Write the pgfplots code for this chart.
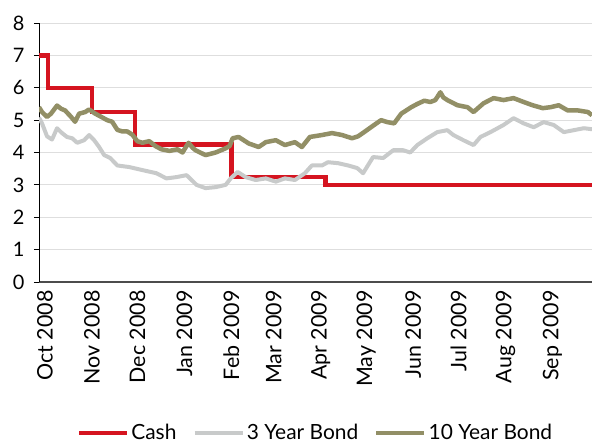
\documentclass[border=0pt]{standalone}
\usepackage{pgfplots}
\pgfplotsset{compat=1.18}
\usepackage{fontspec}
\setmainfont{Lato}
\definecolor{cashred}{RGB}{213,20,32}
\definecolor{bondgray}{RGB}{200,202,202}
\definecolor{bondolive}{RGB}{146,143,102}
\begin{document}
\begin{tikzpicture}
\useasboundingbox (-39bp,-161bp) rectangle (553bp,282bp);
\begin{axis}[
  at={(0,0)}, anchor=south west,
  scale only axis, width=553bp, height=259bp,
  xmin=0, xmax=365, ymin=0, ymax=8,
  ytick={0,1,...,8},
  xtick={0,31,61,92,123,151,182,212,243,273,304,335},
  xticklabels={Oct 2008,Nov 2008,Dec 2008,Jan 2009,Feb 2009,Mar 2009,Apr 2009,May 2009,Jun 2009,Jul 2009,Aug 2009,Sep 2009},
  x tick label style={rotate=90, anchor=east, font=\fontsize{21.5}{21.5}\selectfont, yshift=-6bp},
  y tick label style={font=\fontsize{20}{20}\selectfont, xshift=-6bp},
  /pgf/number format/assume math mode=true,
  axis x line*=bottom, axis y line*=left,
  ymajorgrids, grid style={draw=black!13, line width=1bp},
  x axis line style={draw=black!70, line width=1.8bp, -},
  y axis line style={draw=black, line width=1bp, -},
  xtick style={draw=none},
  ytick style={draw=black, line width=1bp},
  tick align=outside, major tick length=5bp,
  legend columns=3,
  legend style={draw=none, fill=none, at={(0.5,-0.583)}, anchor=center,
    font=\fontsize{21}{21}\selectfont,
    /tikz/every even column/.append style={column sep=14bp}},
  legend image code/.code={\draw[#1, line width=4.5bp] (0bp,0bp) -- (48bp,0bp);},
]
\addplot[cashred, line width=4.5bp, const plot] coordinates {
(0,7) (6,7) (6,6) (35,6) (35,5.25) (63.5,5.25) (63.5,4.25) (127,4.25) (127,3.25) (189,3.25) (189,3.0) (366,3.0)
};
\addlegendentry{Cash}
\addplot[bondgray, line width=4bp, line join=round] coordinates {
(0,5.08) (2,4.9) (5.3,4.5) (8.6,4.4) (11.9,4.75) (15.2,4.6) (18.5,4.48) (21.9,4.44) (25.2,4.3) (29.8,4.38) (33.1,4.54) (36.4,4.38) (39.7,4.17) (43,3.92) (47,3.83) (51.7,3.6) (59.6,3.55) (68.9,3.45) (77.5,3.36) (84.1,3.2) (90.7,3.24) (97.4,3.3) (104,3.0) (109.9,2.9) (116.6,2.93) (123.2,3.0) (126.5,3.2) (131.1,3.4) (136.4,3.24) (143,3.15) (149.7,3.2) (156.3,3.1) (162.3,3.2) (168.9,3.15) (175.5,3.36) (180.1,3.6) (186.8,3.6) (190.7,3.7) (197.4,3.67) (204,3.6) (210,3.52) (213.9,3.36) (220.5,3.86) (227.2,3.83) (233.8,4.07) (240.4,4.07) (245,4.0) (249.7,4.23) (256.3,4.44) (262.9,4.63) (269.5,4.69) (273.5,4.54) (280.1,4.38) (286.8,4.23) (291.4,4.48) (298,4.63) (306.6,4.85) (313.2,5.06) (319.9,4.9) (326.5,4.78) (333.1,4.94) (339.7,4.85) (346.4,4.63) (353,4.69) (359.6,4.75) (365,4.72)
};
\addlegendentry{3 Year Bond}
\addplot[bondolive, line width=4.5bp, line join=round] coordinates {
(0,5.4) (2,5.25) (5.3,5.1) (7.9,5.2) (11.9,5.45) (14.6,5.35) (17.2,5.3) (21.2,5.1) (23.8,4.95) (26.5,5.2) (30.5,5.25) (33.1,5.33) (37.1,5.2) (41.1,5.1) (45,5.0) (48.3,4.95) (51.7,4.7) (55,4.65) (58.3,4.65) (61.6,4.55) (64.9,4.35) (68.2,4.3) (72.8,4.35) (76.8,4.2) (80.8,4.1) (86.1,4.05) (91.4,4.1) (94.7,4.0) (98.7,4.3) (101.3,4.15) (103.3,4.07) (109.9,3.92) (116.6,4.0) (123.2,4.13) (125.8,4.2) (127.8,4.44) (131.8,4.48) (138.4,4.28) (145,4.17) (149.7,4.32) (156.3,4.38) (162.3,4.23) (168.9,4.32) (173.5,4.17) (178.8,4.48) (186.8,4.54) (193.4,4.6) (200,4.54) (206.6,4.44) (210.6,4.5) (214.6,4.63) (221.2,4.85) (225.8,5.0) (229.8,4.94) (234.4,4.9) (239.1,5.2) (245.7,5.4) (249.7,5.5) (254.3,5.6) (258.3,5.56) (261.6,5.62) (264.9,5.86) (266.9,5.7) (269.5,5.62) (276.2,5.46) (282.8,5.4) (286.8,5.25) (293.4,5.52) (300,5.68) (306.6,5.62) (313.2,5.68) (319.9,5.56) (325.8,5.46) (332.5,5.37) (337.7,5.4) (343,5.46) (349,5.3) (355.6,5.3) (362.3,5.25) (365,5.15)
};
\addlegendentry{10 Year Bond}
\end{axis}
\end{tikzpicture}
\end{document}
